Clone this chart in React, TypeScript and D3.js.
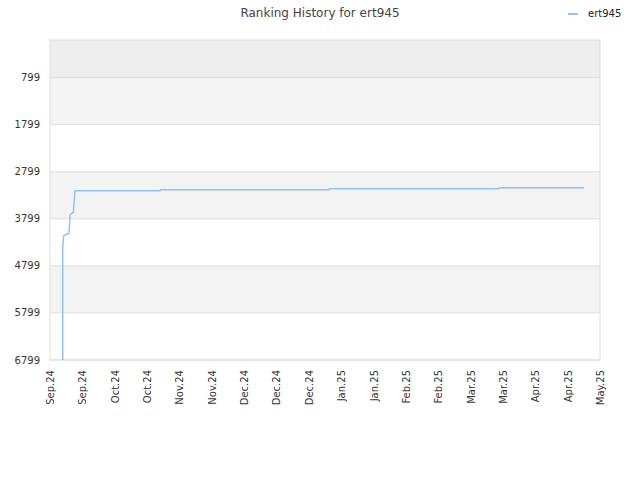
import React, { useEffect, useRef } from 'react';
import * as d3 from 'd3';

// x labels, one every 15 days starting at day 0
const tickLabels = [
  'Sep.24', 'Sep.24', 'Oct.24', 'Oct.24', 'Nov.24', 'Nov.24', 'Dec.24', 'Dec.24', 'Dec.24',
  'Jan.25', 'Jan.25', 'Feb.25', 'Feb.25', 'Mar.25', 'Mar.25', 'Apr.25', 'Apr.25', 'May.25',
];
const yTicks = [799, 1799, 2799, 3799, 4799, 5799, 6799];

// days since start of axis and rank for player ert945
const days = [5.9, 5.9, 6.3, 7.0, 8.8, 9.3, 10.1, 10.8, 11.6, 51.0, 51.2, 129.3, 129.6, 208.2, 208.4, 247.6];
const ranks = [6799, 4398, 4164, 4143, 4111, 3718, 3682, 3661, 3202, 3202, 3181, 3181, 3160, 3160, 3138, 3138];

const App: React.FC = () => {
  const svgRef = useRef<SVGSVGElement>(null);

  useEffect(() => {
    if (!svgRef.current) return;
    const svg = d3.select(svgRef.current);
    svg.selectAll('*').remove();

    const margin = { top: 40, right: 40, bottom: 120, left: 50 };
    const width = 640 - margin.left - margin.right;
    const height = 480 - margin.top - margin.bottom;
    const font = 'DejaVu Sans, sans-serif';

    const x = d3.scaleLinear().domain([0, (tickLabels.length - 1) * 15]).range([0, width]);
    const y = d3.scaleLinear().domain([0, 6799]).range([0, height]);

    const g = svg.append('g').attr('transform', `translate(${margin.left},${margin.top})`);

    // alternating background bands
    const bands = [0, ...yTicks];
    g.selectAll('rect.band')
      .data(bands.slice(0, -1))
      .join('rect')
      .attr('class', 'band')
      .attr('x', 0)
      .attr('width', width)
      .attr('y', d => y(d))
      .attr('height', (d, i) => y(bands[i + 1]) - y(d))
      .attr('fill', (d, i) => (i === 0 ? '#eeeeee' : i % 2 === 1 ? '#f3f3f3' : '#ffffff'));

    g.selectAll('line.grid')
      .data(yTicks)
      .join('line')
      .attr('class', 'grid')
      .attr('x1', 0)
      .attr('x2', width)
      .attr('y1', d => y(d))
      .attr('y2', d => y(d))
      .attr('stroke', '#dddddd');

    g.append('rect')
      .attr('width', width)
      .attr('height', height)
      .attr('fill', 'none')
      .attr('stroke', '#dddddd');

    // y labels
    g.selectAll('text.ylab')
      .data(yTicks)
      .join('text')
      .attr('class', 'ylab')
      .attr('x', -10)
      .attr('y', d => y(d))
      .attr('dy', '0.35em')
      .attr('text-anchor', 'end')
      .attr('font-family', font)
      .attr('font-size', 10)
      .attr('fill', '#333')
      .text(d => d);

    // x labels, rotated
    g.selectAll('text.xlab')
      .data(tickLabels)
      .join('text')
      .attr('class', 'xlab')
      .attr('transform', (d, i) => `translate(${x(i * 15) + 4},${height + 10}) rotate(-90)`)
      .attr('text-anchor', 'end')
      .attr('font-family', font)
      .attr('font-size', 10)
      .attr('fill', '#333')
      .text(d => d);

    const line = d3.line<number>()
      .x((d, i) => x(days[i]))
      .y(d => y(d));

    g.append('path')
      .datum(ranks)
      .attr('d', line)
      .attr('fill', 'none')
      .attr('stroke', '#90c3f5')
      .attr('stroke-width', 1.5);

    // title
    svg.append('text')
      .attr('x', 320)
      .attr('y', 17)
      .attr('text-anchor', 'middle')
      .attr('font-family', font)
      .attr('font-size', 12)
      .attr('fill', '#444')
      .text('Ranking History for ert945');

    // legend
    svg.append('line')
      .attr('x1', 568)
      .attr('x2', 578)
      .attr('y1', 14)
      .attr('y2', 14)
      .attr('stroke', '#90c3f5')
      .attr('stroke-width', 2);
    svg.append('text')
      .attr('x', 588)
      .attr('y', 17)
      .attr('font-family', font)
      .attr('font-size', 10)
      .attr('fill', '#222')
      .text('ert945');
  }, []);

  return (
    <svg
      ref={svgRef}
      width={640}
      height={480}
      style={{ position: 'absolute', left: 0, top: 0, background: '#fff' }}
    />
  );
};

export default App;
